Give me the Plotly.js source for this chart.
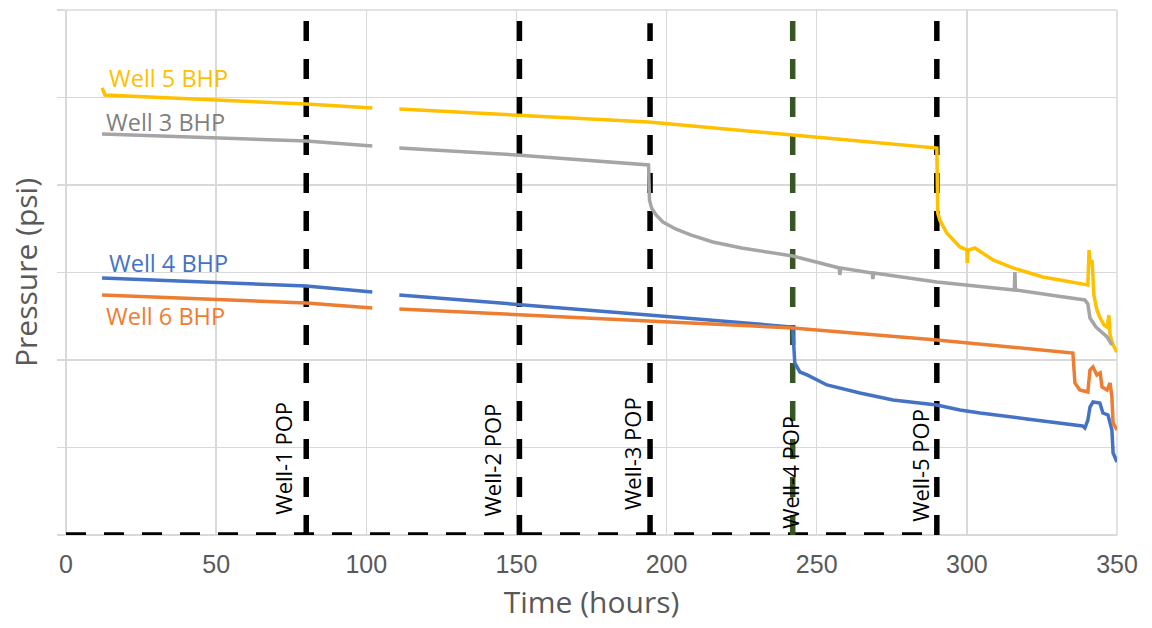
<!DOCTYPE html>
<html>
<head>
<meta charset="utf-8">
<script src="https://cdn.plot.ly/plotly-3.0.1.min.js"></script>
<style>html,body{margin:0;padding:0;background:#fff;}#chart{width:1152px;height:628px;}</style>
</head>
<body>
<div id="chart"></div>
<script>
// Time (hours) and pressure (psi)
const well5_t = [12, 13, 50, 80, 102, null, 111, 150, 194, 242, 290, 290.3, 291, 293.3, 297.7, 300, 300.1, 300.4, 302.7, 308.7, 315.3, 325.3, 337.7, 340.3, 340.7, 341, 341.7, 342.3, 343.3, 344.4, 345.7, 346.7, 347.3, 347.7, 348.7, 350];
const well5_p = [5110, 5029, 4972, 4926, 4880, null, 4869, 4800, 4720, 4571, 4423, 3680, 3600, 3452, 3292, 3257, 3109, 3257, 3280, 3143, 3052, 2949, 2880, 2857, 3257, 3086, 3143, 2743, 2572, 2480, 2400, 2377, 2514, 2286, 2172, 2091];

const well3_t = [12, 50, 80, 102, null, 111, 150, 194, 194.3, 195, 196.5, 198.8, 203, 208, 215.4, 225, 236.8, 242, 257.5, 257.7, 258, 268.5, 268.7, 269, 290, 300, 315.8, 316, 316.2, 330, 339.3, 340.3, 341, 343, 346.7, 348.3];
const well3_p = [4583, 4537, 4503, 4446, null, 4423, 4343, 4229, 3829, 3738, 3658, 3577, 3498, 3429, 3349, 3280, 3212, 3189, 3052, 2972, 3052, 2995, 2926, 2995, 2892, 2857, 2800, 3006, 2800, 2732, 2686, 2640, 2480, 2377, 2263, 2172];

const well4_t = [12, 50, 80, 102, null, 111, 150, 194, 242, 242.7, 244.4, 246.8, 253.4, 264.4, 275.4, 290, 297.7, 304.4, 320, 338.5, 339.3, 340.3, 341, 342, 344.3, 345.3, 347, 348.3, 348.7, 350];
const well4_p = [2938, 2892, 2846, 2777, null, 2743, 2640, 2515, 2377, 1966, 1863, 1829, 1715, 1623, 1543, 1486, 1429, 1394, 1326, 1246, 1223, 1314, 1463, 1520, 1509, 1394, 1372, 1200, 937, 834];

const well6_t = [12, 50, 80, 102, null, 111, 150, 194, 242, 290, 335.3, 336, 337.6, 340.3, 341, 342, 343.3, 344.4, 345, 346.7, 347.7, 348.3, 348.7, 350];
const well6_p = [2743, 2697, 2652, 2595, null, 2583, 2515, 2446, 2366, 2229, 2080, 1737, 1657, 1634, 1886, 1920, 1829, 1852, 1692, 1657, 1737, 1577, 1280, 1200];

// Put-on-production (POP) times
const popNames = ["Well-1 POP", "Well-2 POP", "Well-3 POP", "Well-4 POP", "Well-5 POP"];
const popTimes = [80, 151, 194.5, 242, 290];
const popTops  = [6000, 6000, 5850, 6000, 6000];
const popColors = ["#000000", "#000000", "#000000", "#375623", "#000000"];

const seriesNames = ["Well 5 BHP", "Well 3 BHP", "Well 4 BHP", "Well 6 BHP"];
const seriesColors = ["#ffc000", "#a5a5a5", "#4472c4", "#ed7d31"];
const labelColors = ["#ffc000", "#7f7f7f", "#4472c4", "#ed7d31"];

const seriesT = [well5_t, well3_t, well4_t, well6_t];
const seriesP = [well5_p, well3_p, well4_p, well6_p];

const traces = [];
// baseline of step (zero before production)
traces.push({
  x: [0, popTimes[popTimes.length - 1]], y: [0, 0], mode: "lines",
  line: {color: "#000000", width: 5.5, dash: "20px,18px"},
  cliponaxis: false, showlegend: false, hoverinfo: "skip"
});
popTimes.forEach((t, i) => {
  traces.push({
    x: [t, t], y: [0, popTops[i]], mode: "lines", name: popNames[i],
    line: {color: popColors[i], width: 5.5, dash: "20px,18px"},
    cliponaxis: false, showlegend: false
  });
});
seriesNames.forEach((n, i) => {
  traces.push({
    x: seriesT[i], y: seriesP[i], mode: "lines", name: n,
    line: {color: seriesColors[i], width: 3.5}, connectgaps: false, showlegend: false
  });
});

// label placement (layout only)
const seriesLabelPos = [[13.5, 5223], [12.8, 4720], [13.5, 3109], [12.8, 2503]];
const popLabelShift = [-23, -27, -18, -3, -17];
const popLabelY = [875, 857, 926, 720, 800];

const annotations = [];
seriesNames.forEach((n, i) => {
  annotations.push({
    x: seriesLabelPos[i][0], y: seriesLabelPos[i][1], xref: "x", yref: "y",
    text: n, showarrow: false, xanchor: "left", yanchor: "middle",
    font: {family: "Open Sans", size: 23.5, color: labelColors[i]}
  });
});
popNames.forEach((n, i) => {
  annotations.push({
    x: popTimes[i], y: popLabelY[i], xref: "x", yref: "y", xshift: popLabelShift[i],
    text: n, showarrow: false, textangle: -90, xanchor: "center", yanchor: "middle",
    font: {family: "Open Sans", size: 22, color: "#000000"}
  });
});

const layout = {
  width: 1152, height: 628,
  margin: {l: 66, r: 35, t: 10, b: 93},
  paper_bgcolor: "#ffffff", plot_bgcolor: "#ffffff",
  showlegend: false,
  xaxis: {
    range: [0, 350], dtick: 50, tick0: 0,
    showgrid: true, gridcolor: "#d9d9d9", gridwidth: 1.5,
    zeroline: true, zerolinecolor: "#d9d9d9", zerolinewidth: 1.5,
    showline: false, ticks: "",
    ticklabelstandoff: 12,
    tickfont: {family: "Liberation Sans", size: 25, color: "#595959"},
    title: {text: "Time (hours)", font: {family: "Open Sans", size: 30, color: "#595959"}, standoff: 14},
    automargin: false
  },
  yaxis: {
    range: [0, 6000], dtick: 1000, tick0: 0,
    showgrid: true, gridcolor: "#d9d9d9", gridwidth: 1.5,
    zeroline: true, zerolinecolor: "#d9d9d9", zerolinewidth: 1.5,
    showline: false, ticks: "outside", ticklen: 8, tickcolor: "#d9d9d9", tickwidth: 1.5,
    showticklabels: false,
    title: {text: "Pressure (psi)", font: {family: "Open Sans", size: 30, color: "#595959"}, standoff: 10},
    automargin: false
  },
  shapes: [
    {type: "line", xref: "paper", yref: "paper", x0: 0, x1: 1, y0: 1, y1: 1, line: {color: "#d9d9d9", width: 1.5}, layer: "below"},
    {type: "line", xref: "paper", yref: "paper", x0: 1, x1: 1, y0: 0, y1: 1, line: {color: "#d9d9d9", width: 1.5}, layer: "below"}
  ],
  annotations: annotations
};

Plotly.newPlot("chart", traces, layout, {displayModeBar: false, staticPlot: true});
</script>
</body>
</html>
